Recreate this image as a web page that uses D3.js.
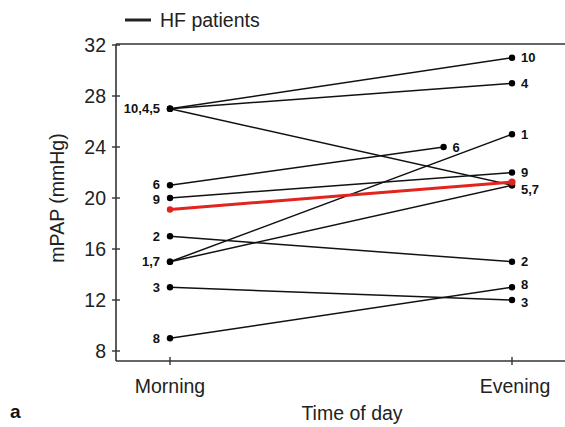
<!DOCTYPE html>
<html><head><meta charset="utf-8">
<script src="https://cdn.jsdelivr.net/npm/d3@7"></script>
<style>body{margin:0;background:#fff}svg{display:block}</style>
</head><body>
<svg id="c" width="565" height="427"></svg>
<script>
// Data
const patients = ["10","4","5","6","9","2","1","7","3","8"];
const morningValues = [27, 27, 27, 21, 20, 17, 15, 15, 13, 9];
const eveningValues = [31, 29, 21, 24, 22, 15, 25, 21, 12, 13];
const eveningTime  = [1, 1, 1, 0.8, 1, 1, 1, 1, 1, 1]; // patient 6 measured earlier
const meanValues = [19.1, 21.25];
const leftLabels = [{t:"10,4,5", v:27}, {t:"6", v:21.1}, {t:"9", v:19.9}, {t:"2", v:17}, {t:"1,7", v:15}, {t:"3", v:13}, {t:"8", v:9}];
const rightLabels = [{t:"10", v:31}, {t:"4", v:29}, {t:"1", v:25}, {t:"9", v:22}, {t:"5,7", v:20.7}, {t:"2", v:15}, {t:"8", v:13.2}, {t:"3", v:11.8}];
const yTicks = [8, 12, 16, 20, 24, 28, 32];
const xCategories = ["Morning", "Evening"];

(function(){
const svg = d3.select("#c");
const font = "Liberation Sans, Arial, sans-serif";
const fs = 19.5;
const x = d3.scaleLinear().domain([0, 1]).range([170, 512]);
const y = d3.scaleLinear().domain([8, 32]).range([351, 45]);
const pLeft = 116, pBottom = 361, pTop = 44;

// frame
svg.append("line").attr("x1", pLeft).attr("x2", 565).attr("y1", pTop).attr("y2", pTop).attr("stroke", "#333").attr("stroke-width", 1.6);
svg.append("line").attr("x1", pLeft).attr("x2", 565).attr("y1", pBottom).attr("y2", pBottom).attr("stroke", "#333").attr("stroke-width", 1.6);
svg.append("line").attr("x1", pLeft).attr("x2", pLeft).attr("y1", pTop).attr("y2", pBottom).attr("stroke", "#333").attr("stroke-width", 1.6);

// y ticks
const yAx = svg.append("g");
yTicks.forEach(t => {
  yAx.append("line").attr("x1", pLeft - 4).attr("x2", pLeft + 4).attr("y1", y(t)).attr("y2", y(t)).attr("stroke", "#333").attr("stroke-width", 1.4);
  yAx.append("text").attr("x", 106).attr("y", y(t)).attr("dy", "0.36em").attr("text-anchor", "end")
    .attr("font-family", font).attr("font-size", fs).attr("fill", "#222").text(t);
});
// x ticks
xCategories.forEach((c, i) => {
  svg.append("line").attr("x1", x(i)).attr("x2", x(i)).attr("y1", pBottom - 4).attr("y2", pBottom + 4).attr("stroke", "#333").attr("stroke-width", 1.4);
  svg.append("text").attr("x", x(i) + (i ? 3 : 0)).attr("y", 393).attr("text-anchor", "middle")
    .attr("font-family", font).attr("font-size", fs).attr("fill", "#222").text(c);
});
svg.append("text").attr("x", 352).attr("y", 420).attr("text-anchor", "middle")
  .attr("font-family", font).attr("font-size", fs).attr("fill", "#222").text("Time of day");
svg.append("text").attr("transform", `translate(57,${(45+351)/2}) rotate(-90)`).attr("text-anchor", "middle").attr("dy", "0.36em")
  .attr("font-family", font).attr("font-size", fs).attr("fill", "#222").text("mPAP (mmHg)");
svg.append("text").attr("x", 10).attr("y", 418).attr("font-family", font).attr("font-weight", "bold")
  .attr("font-size", 19).attr("fill", "#111").text("a");

// legend
svg.append("line").attr("x1", 125).attr("x2", 151).attr("y1", 20).attr("y2", 20).attr("stroke", "#222").attr("stroke-width", 3);
svg.append("text").attr("x", 160).attr("y", 27).attr("font-family", font).attr("font-size", fs).attr("fill", "#222").text("HF patients");

// patient lines
const g = svg.append("g");
patients.forEach((p, i) => {
  g.append("line").attr("x1", x(0)).attr("y1", y(morningValues[i])).attr("x2", x(eveningTime[i])).attr("y2", y(eveningValues[i]))
    .attr("stroke", "#111").attr("stroke-width", 1.5);
});
patients.forEach((p, i) => {
  g.append("circle").attr("cx", x(0)).attr("cy", y(morningValues[i])).attr("r", 3.2).attr("fill", "#000");
  g.append("circle").attr("cx", x(eveningTime[i])).attr("cy", y(eveningValues[i])).attr("r", 3.2).attr("fill", "#000");
});
// mean line
g.append("line").attr("x1", x(0)).attr("y1", y(meanValues[0])).attr("x2", x(1)).attr("y2", y(meanValues[1]))
  .attr("stroke", "#e3231e").attr("stroke-width", 3).attr("stroke-linecap", "round");
g.append("circle").attr("cx", x(0)).attr("cy", y(meanValues[0])).attr("r", 3.2).attr("fill", "#e3231e");
g.append("circle").attr("cx", x(1)).attr("cy", y(meanValues[1])).attr("r", 3.6).attr("fill", "#e3231e");

// labels
const lfs = 13;
leftLabels.forEach(l => {
  g.append("text").attr("x", x(0) - 10).attr("y", y(l.v)).attr("dy", "0.36em").attr("text-anchor", "end")
    .attr("font-family", font).attr("font-weight", "bold").attr("font-size", lfs).attr("fill", "#111").text(l.t);
});
rightLabels.forEach(l => {
  g.append("text").attr("x", x(1) + 9).attr("y", y(l.v)).attr("dy", "0.36em")
    .attr("font-family", font).attr("font-weight", "bold").attr("font-size", lfs).attr("fill", "#111").text(l.t);
});
g.append("text").attr("x", x(0.8) + 9).attr("y", y(24)).attr("dy", "0.36em")
  .attr("font-family", font).attr("font-weight", "bold").attr("font-size", lfs).attr("fill", "#111").text("6");
})();
</script>
</body></html>
